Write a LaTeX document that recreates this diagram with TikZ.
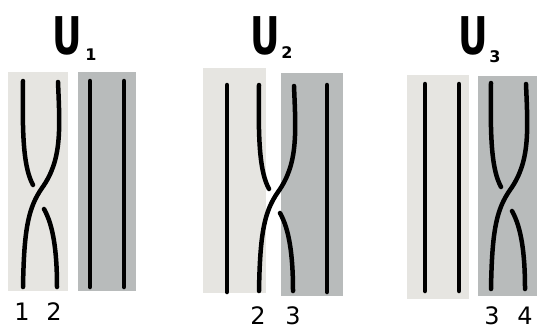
\documentclass[tikz,border=0pt]{standalone}
\usepackage{fontspec}
\setmainfont{DejaVu Sans}
\begin{document}
\begin{tikzpicture}[x=1pt,y=-1pt,
  lightbox/.style={fill=lightgray0,draw=none},
  darkbox/.style={fill=darkgray0,draw=none},
  strand/.style={line width=4.5pt,line cap=round,black},
  biglabel/.style={font=\fontsize{52}{52}\selectfont\bfseries,inner sep=0pt,xscale=0.7},
  sublabel/.style={font=\fontsize{16}{16}\selectfont\bfseries,inner sep=0pt},
  numlabel/.style={font=\fontsize{24}{24}\selectfont,inner sep=0pt}]
\definecolor{lightgray0}{HTML}{E6E5E1}
\definecolor{darkgray0}{HTML}{B8BBBB}
\useasboundingbox (0,0) rectangle (537,330);
% boxes
\fill[lightbox] (8,72) rectangle (68,291);
\fill[darkbox] (78,72) rectangle (136,291);
\fill[lightbox] (203,68) rectangle (266,293);
\fill[darkbox] (281,73) rectangle (343,296);
\fill[lightbox] (407,75) rectangle (469,299);
\fill[darkbox] (478,76) rectangle (537,296);
% straight strands
\draw[strand] (90,81) -- (90,287);
\draw[strand] (124,81) -- (124,287);
\draw[strand] (227,85) -- (227,292);
\draw[strand] (327,85) -- (327,292);
\draw[strand] (425,84) -- (425,291);
\draw[strand] (459,84) -- (459,291);
% crossings
\foreach \dx/\dy in {0/0, 236/4, 468/2}{
  \begin{scope}[shift={(\dx,\dy)}]
    \draw[strand] (58,82) .. controls (60,130) and (62,160) .. (42,188)
      .. controls (28,208) and (24,230) .. (23,287);
    \draw[strand] (23,81) .. controls (22,140) and (24,168) .. (33,185);
    \draw[strand] (44,209) .. controls (53,225) and (57,250) .. (57,287);
  \end{scope}
}
% labels
\node[biglabel] (u1) at (67,36) {U};
\node[sublabel] (s1) at (91,55) {1};
\node[biglabel] (u2) at (265,36) {U};
\node[sublabel] (s2) at (287,53) {2};
\node[biglabel] (u3) at (473,36) {U};
\node[sublabel] (s3) at (495,57) {3};
\node[numlabel] (n1) at (22,312) {1};
\node[numlabel] (n2) at (54,312) {2};
\node[numlabel] (n3) at (258,316) {2};
\node[numlabel] (n4) at (293,316) {3};
\node[numlabel] (n5) at (492,316) {3};
\node[numlabel] (n6) at (525,316) {4};
\end{tikzpicture}
\end{document}
